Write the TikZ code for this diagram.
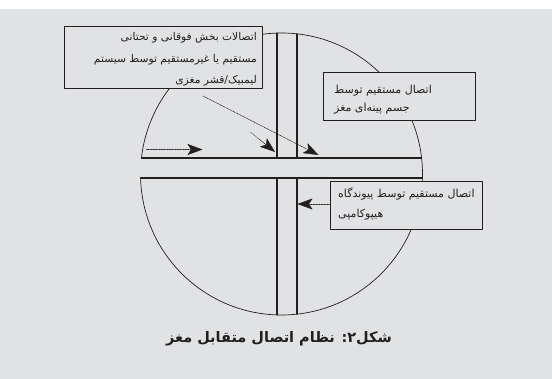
\documentclass[tikz,border=0pt]{standalone}
\usepackage{fontspec}
\newfontfamily\farsifont[Script=Arabic]{DejaVu Sans}
\TeXXeTstate=1
\usetikzlibrary{arrows.meta,calc}
\definecolor{bggray}{RGB}{225,226,228}
\definecolor{inkblack}{RGB}{35,31,32}

\begin{document}
\begin{tikzpicture}[x=1pt, y=-1pt, line cap=round, line join=round,
    infobox/.style={draw=inkblack, line width=1pt, fill=bggray, inner sep=0pt},
    boxtext/.style={inner sep=0pt, text=inkblack},
    wall/.style={draw=inkblack, line width=1.1pt},
    leak/.style={draw=inkblack, line width=0.6pt, dash pattern=on 0.7pt off 0.9pt,
        -{Stealth[length=15pt, width=11pt, inset=3.5pt, fill=inkblack, line width=0.4pt, sep=0pt]}}]
    % Page and background
    \fill[white] (0,0) rectangle (552,379);
    \fill[bggray] (0,9.5) rectangle (552,379);
    \useasboundingbox (0,0) rectangle (552,379);

    % Brain outline (open on the left between the two cuts)
    \coordinate (brain) at (281.5,174);
    \draw[inkblack, line width=0.7pt] ($(brain)+(178.37:141)$)
        arc[start angle=178.37, end angle=-173.48, radius=141];

    % Horizontal cuts
    \draw[wall] ($(brain)+(186.52:141)$) -- ($(brain)+(-6.52:141)$);
    \draw[wall] ($(brain)+(178.37:141)$) -- ($(brain)+(1.63:141)$);

    % Midline band
    \foreach \x/\t/\b in {277/33.1/314.9, 297/33.9/314.1} {
        \draw[wall] (\x,\t) -- (\x,158);
        \draw[wall] (\x,178) -- (\x,\b);
    }

    % Label boxes
    \node[infobox, minimum width=198.7pt, minimum height=61.8pt] (limbic) at (163.35,57.4) {};
    \node[infobox, minimum width=152.7pt, minimum height=48.3pt] (callosum) at (399.35,96.85) {};
    \node[infobox, minimum width=152.4pt, minimum height=48.3pt] (hippo) at (406.2,205.85) {};

    \node[boxtext, anchor=east, text width=190pt, align=flush right,
          font=\farsifont\fontsize{10.7}{21.5}\selectfont]
        (limbictext) at (257,59.3)
        {\beginR اتصالات بخش فوقانی و تحتانی\endR\\
         \beginR مستقیم یا غیرمستقیم توسط سیستم\endR\\
         \beginR لیمبیک/قشر مغزی\endR};
    \node[boxtext, anchor=west, text width=135pt, align=flush left,
          font=\farsifont\fontsize{11}{18.5}\selectfont]
        (callosumtext) at (334,99.5)
        {\beginR اتصال مستقیم توسط\endR\\
         \beginR جسم پینه‌ای مغز\endR};
    \node[boxtext, anchor=west, text width=142pt, align=flush left,
          font=\farsifont\fontsize{11}{20}\selectfont]
        (hippotext) at (338,204)
        {\beginR اتصال مستقیم توسط پیوندگاه\endR\\
         \beginR هیپوکامپی\endR};

    % Dotted arrows
    \coordinate (leftin) at (146.5,149.5);
    \coordinate (lefttip) at (202.5,149.5);
    \coordinate (midin) at (250.5,132);
    \coordinate (midtip) at (275,152);
    \coordinate (longin) at (203,96);
    \coordinate (longtip) at (318.5,155);
    \coordinate (hippotip) at (297.5,204);
    \draw[leak] (leftin) -- (lefttip);
    \draw[leak] (midin) -- (midtip);
    \draw[leak] (longin) -- (longtip);
    \draw[leak] ([yshift=1.85pt]hippo.west) -- (hippotip);

    % Caption
    \node[boxtext, font=\farsifont\bfseries\fontsize{14.5}{17}\selectfont] (caption) at (279,339)
        {\beginR شکل۲: نظام اتصال متقابل مغز\endR};
\end{tikzpicture}
\end{document}
